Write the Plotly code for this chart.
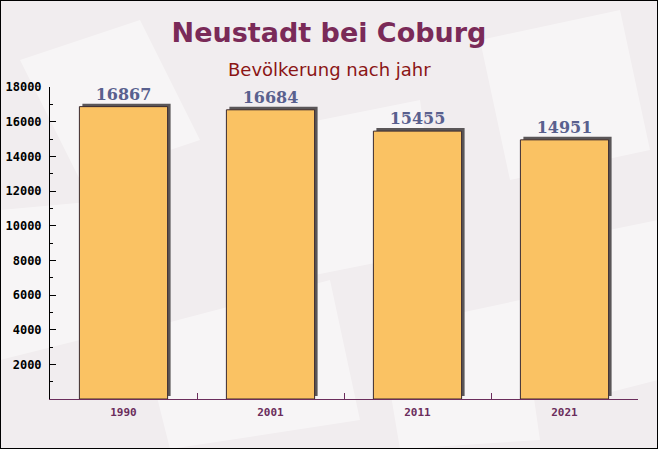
import plotly.graph_objects as go

years = ["1990", "2001", "2011", "2021"]
population = [16867, 16684, 15455, 14951]
y_ticks = [2000, 4000, 6000, 8000, 10000, 12000, 14000, 16000, 18000]

W, H = 658, 449
ml, mr, mt, mb = 50, 20, 87, 50
pw, ph = W - ml - mr, H - mt - mb
ymax = 18000
px_per_unit = ph / ymax
shadow_px = 3
shadow_base = shadow_px / px_per_unit
cat_px = pw / len(years)
bar_w = 0.6
shadow_off = shadow_px / cat_px

fig = go.Figure()
# shadow
fig.add_trace(go.Bar(
    x=years, y=population, base=[shadow_base] * len(years),
    width=bar_w, offset=-bar_w / 2 + shadow_off,
    marker=dict(color="#5a5658", line=dict(width=0)),
    hoverinfo="skip", showlegend=False,
))
# main bars
fig.add_trace(go.Bar(
    x=years, y=population, width=bar_w, offset=-bar_w / 2,
    marker=dict(color="#fac263", line=dict(width=1, color="#3a2a30")),
    text=[str(v) for v in population], textposition="outside",
    textfont=dict(family="DejaVu Serif", size=16, color="#59608e", weight="bold"),
    cliponaxis=False, showlegend=False,
))

# faint background decorations (paper layer)
def px2paper(x, y):
    return (x - ml) / pw, (H - mb - y) / ph

deco = [
    [(20, 60), (140, 20), (200, 140), (80, 180)],
    [(270, 130), (420, 100), (440, 250), (290, 280)],
    [(480, 40), (620, 10), (650, 150), (510, 180)],
    [(140, 330), (330, 280), (360, 420), (170, 449)],
    [(560, 240), (658, 220), (658, 380), (580, 400)],
    [(0, 210), (110, 200), (120, 330), (0, 360)],
    [(380, 330), (520, 300), (540, 440), (400, 449)],
]
shapes = []
for poly in deco:
    pts = [px2paper(x, y) for x, y in poly]
    path = "M " + " L ".join(f"{a:.4f},{b:.4f}" for a, b in pts) + " Z"
    shapes.append(dict(type="path", xref="paper", yref="paper", path=path,
                       fillcolor="rgba(255,255,255,0.45)", line=dict(width=0), layer="below"))

fig.update_layout(
    width=W, height=H,
    margin=dict(l=ml, r=mr, t=mt, b=mb, autoexpand=False),
    paper_bgcolor="#f1edef", plot_bgcolor="rgba(0,0,0,0)",
    barmode="overlay", bargap=0.4,
    shapes=shapes,
    title=dict(text="<b>Neustadt bei Coburg</b>", x=0.5, xanchor="center",
               y=1 - 33 / H, yanchor="middle",
               font=dict(family="DejaVu Sans", size=27, color="#7a2a58")),
    annotations=[dict(text="Bevölkerung nach jahr", xref="paper", yref="paper",
                      x=0.5 - (ml - mr) / 2 / pw, y=1 + (mt - 69) / ph,
                      xanchor="center", yanchor="middle", showarrow=False,
                      font=dict(family="DejaVu Sans", size=18, color="#8b1515"))],
    xaxis=dict(type="category", showgrid=False, showline=True, linecolor="#6b2d5c",
               linewidth=1, ticks="inside", tickson="boundaries", ticklen=6,
               tickcolor="#6b2d5c", ticklabelstandoff=3, automargin=False,
               tickfont=dict(family="DejaVu Sans Mono", size=11, color="#6b2d5c", weight="bold")),
    yaxis=dict(range=[0, ymax], tickvals=y_ticks, tickformat="d", showgrid=False, zeroline=False,
               showline=True, linecolor="#000000", linewidth=1, ticks="inside",
               ticklen=6, tickcolor="#000000", ticklabelstandoff=5, automargin=False,
               minor=dict(ticks="inside", dtick=1000, ticklen=3, tickcolor="#000000"),
               tickfont=dict(family="DejaVu Sans Mono", size=12, color="#000000", weight="bold")),
)

post = (
    "document.body.style.margin='0';"
    "document.body.style.overflow='hidden';"
    "var b=document.createElement('div');"
    "b.style.cssText='position:fixed;left:0;top:0;width:658px;height:449px;"
    "box-sizing:border-box;border:1px solid #000;pointer-events:none;z-index:9999;';"
    "document.body.appendChild(b);"
)
fig.write_html("out.html", config={"displayModeBar": False}, post_script=post)
